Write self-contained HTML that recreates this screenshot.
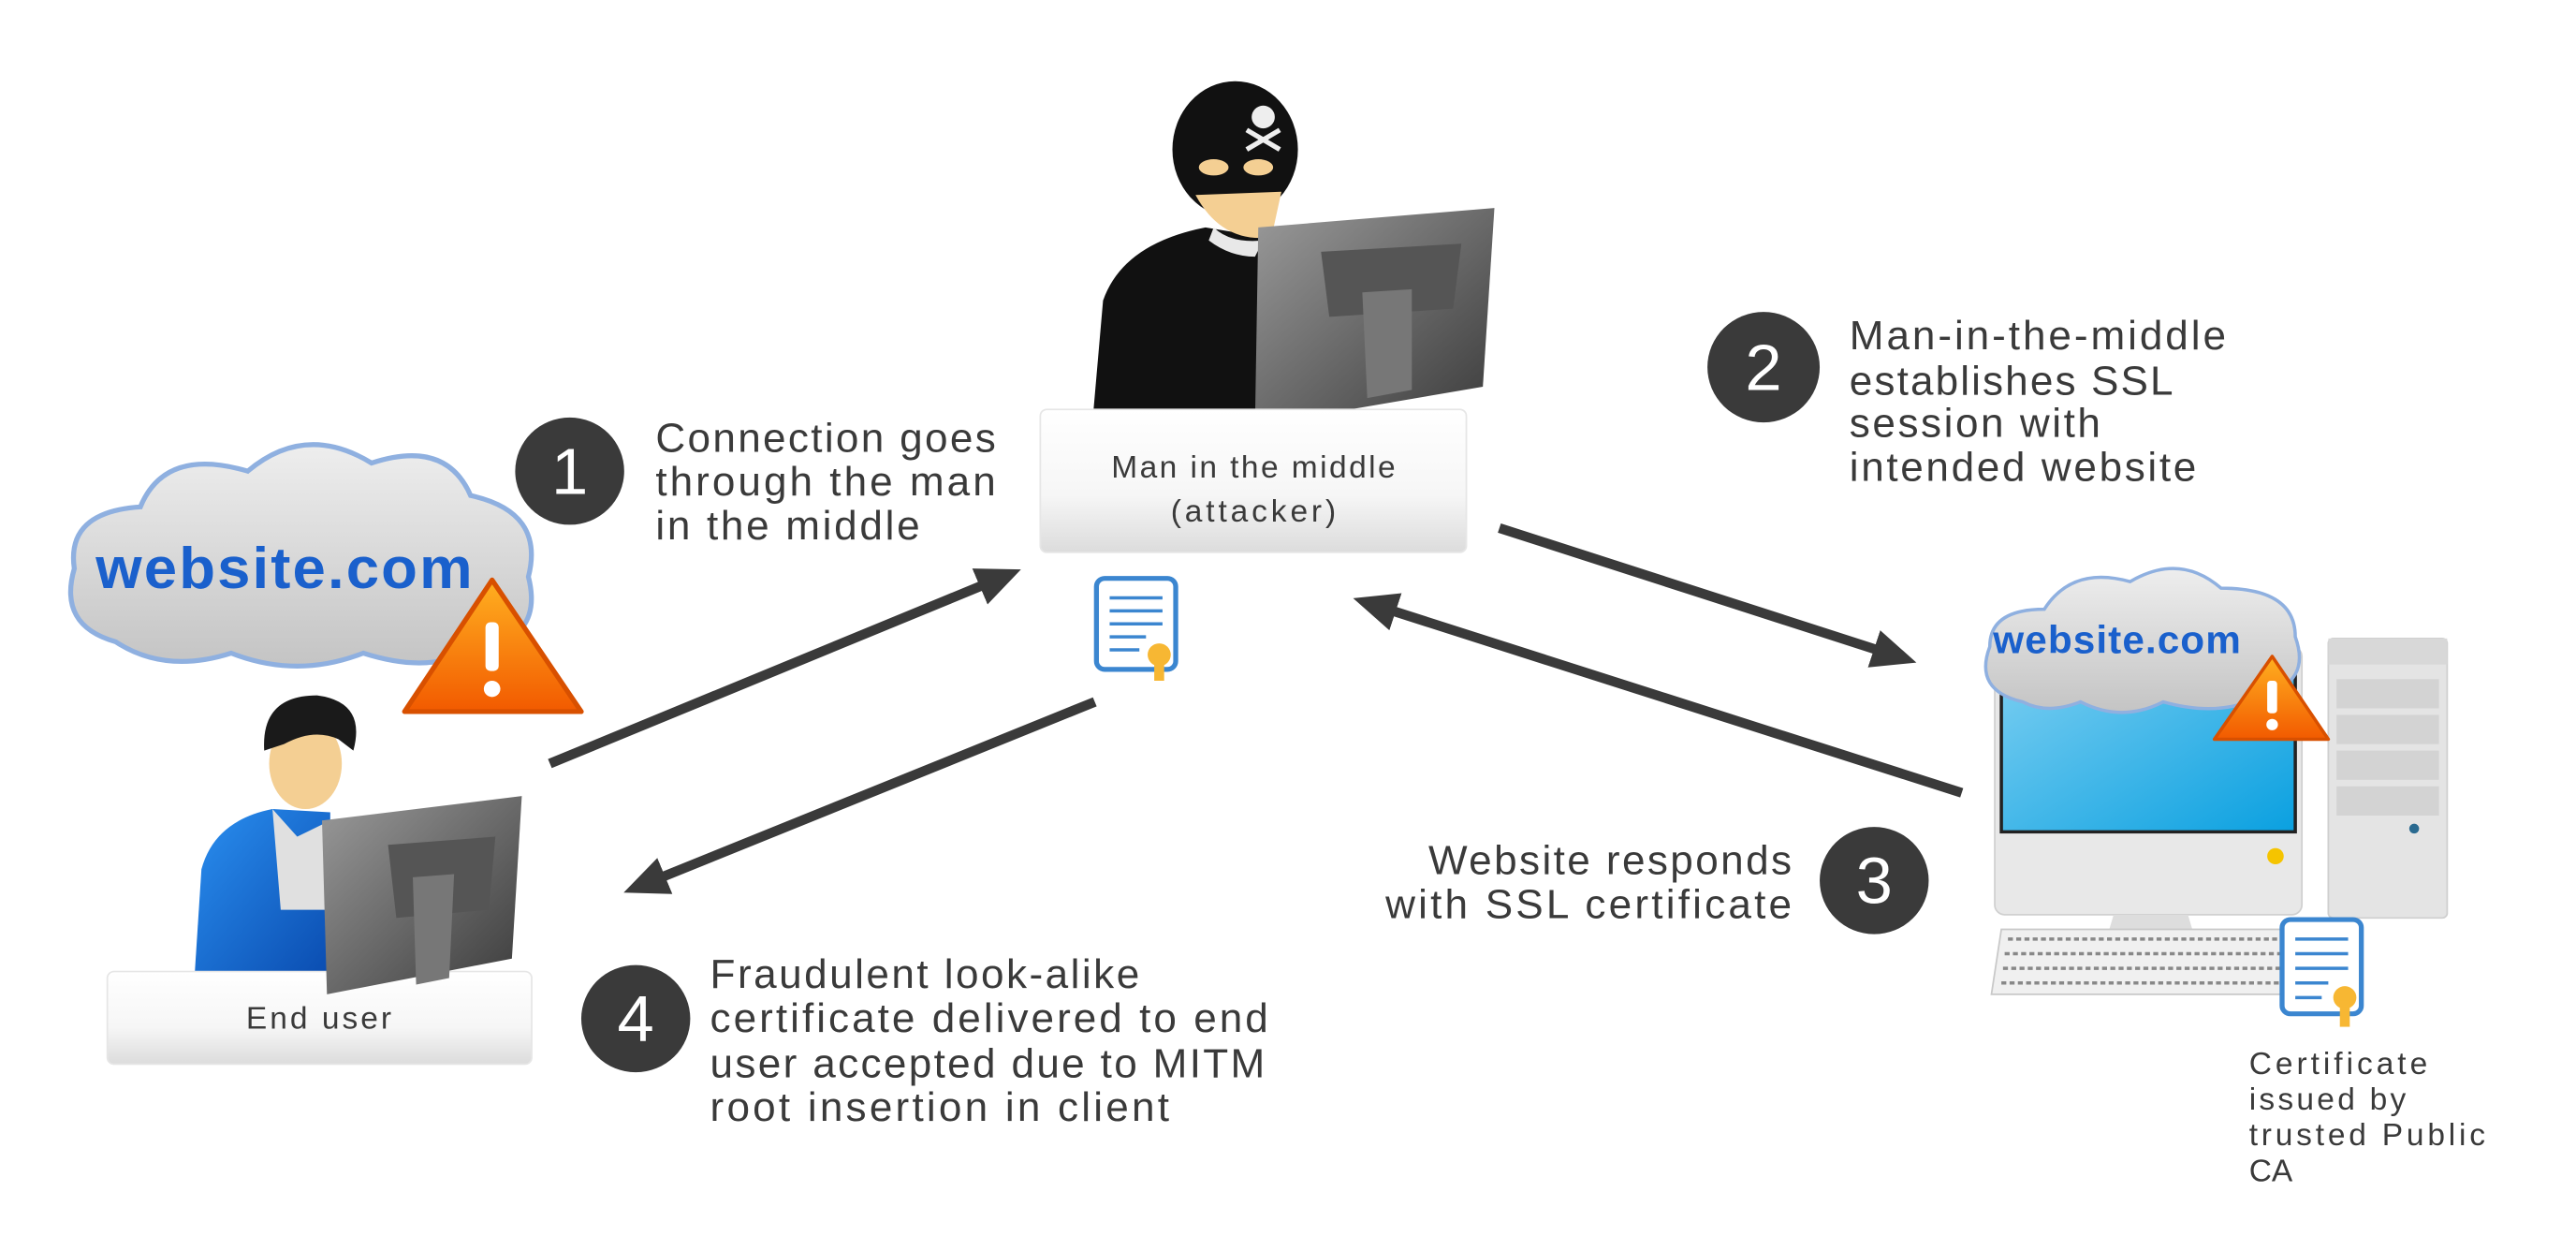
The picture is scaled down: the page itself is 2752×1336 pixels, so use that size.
<!DOCTYPE html>
<html><head><meta charset="utf-8"><style>
html,body{margin:0;padding:0;background:#fff;}
svg{display:block;}
text{font-family:"Liberation Sans",sans-serif;fill:#3a3a3a;}
</style></head><body>
<svg width="2752" height="1336" viewBox="0 0 1560 770" preserveAspectRatio="none" xmlns="http://www.w3.org/2000/svg">
<defs>
<linearGradient id="box" x1="0" y1="0" x2="0" y2="1"><stop offset="0" stop-color="#fff"/><stop offset="0.6" stop-color="#f6f6f6"/><stop offset="1" stop-color="#dcdcdc"/></linearGradient>
<linearGradient id="cloud" x1="0" y1="0" x2="0" y2="1"><stop offset="0" stop-color="#eeeeee"/><stop offset="1" stop-color="#c4c4c4"/></linearGradient>
<linearGradient id="warn" x1="0" y1="0" x2="0" y2="1"><stop offset="0" stop-color="#ffb020"/><stop offset="1" stop-color="#f25a00"/></linearGradient>
<linearGradient id="mon" x1="0" y1="0" x2="1" y2="1"><stop offset="0" stop-color="#9a9a9a"/><stop offset="1" stop-color="#3a3a3a"/></linearGradient>
<linearGradient id="scr" x1="0" y1="0" x2="1" y2="1"><stop offset="0" stop-color="#7fd0f2"/><stop offset="1" stop-color="#0aa0e0"/></linearGradient>
<linearGradient id="blue" x1="0" y1="0" x2="1" y2="1"><stop offset="0" stop-color="#2a8ff0"/><stop offset="1" stop-color="#0a4cb0"/></linearGradient>
<marker id="ah" markerWidth="4.5" markerHeight="4" refX="3" refY="2" orient="auto" markerUnits="strokeWidth"><path d="M0,0 L4.5,2 L0,4 z" fill="#3a3a3a"/></marker>
</defs>

<g stroke="#3a3a3a" stroke-width="6" marker-end="url(#ah)">
<line x1="333" y1="470" x2="610" y2="354"/>
<line x1="663" y1="432" x2="386" y2="546"/>
<line x1="908" y1="325" x2="1152" y2="405"/>
<line x1="1188" y1="488" x2="828" y2="371"/>
</g>

<!-- attacker -->
<path d="M662,255 L668,185 Q680,150 730,140 L760,145 L790,160 L790,255 Z" fill="#111"/>
<path d="M735,140 Q745,150 765,148 L760,158 Q745,158 732,148 Z" fill="#e8e8e8"/>
<ellipse cx="748" cy="92" rx="38" ry="42" fill="#111"/>
<path d="M724,120 Q740,150 770,146 L776,118 Z" fill="#f4cf93"/>
<ellipse cx="735" cy="103" rx="9" ry="5" fill="#f4cf93"/>
<ellipse cx="762" cy="103" rx="9" ry="5" fill="#f4cf93"/>
<circle cx="765" cy="72" r="7" fill="#eee"/>
<path d="M755,80 L775,92 M775,80 L755,92" stroke="#eee" stroke-width="3"/>
<path d="M762,140 L905,128 L898,238 L760,262 Z" fill="url(#mon)"/>
<path d="M800,155 L885,150 L880,190 L805,195 Z" fill="#555"/>
<path d="M825,180 L855,178 L855,240 L828,245 Z" fill="#777"/>

<rect x="630" y="252" width="258" height="88" rx="4" fill="url(#box)" stroke="#e6e6e6"/>
<text x="759" y="294" font-size="19" text-anchor="middle" textLength="172">Man in the middle</text>
<text x="759" y="321" font-size="19" text-anchor="middle" textLength="100">(attacker)</text>

<rect x="664" y="356" width="48" height="56" rx="5" fill="#fff" stroke="#3b86d0" stroke-width="3"/>
<g stroke="#3b86d0" stroke-width="2"><line x1="672" y1="368" x2="704" y2="368"/><line x1="672" y1="376" x2="704" y2="376"/><line x1="672" y1="384" x2="704" y2="384"/><line x1="672" y1="392" x2="694" y2="392"/><line x1="672" y1="400" x2="690" y2="400"/></g>
<circle cx="702" cy="403" r="7" fill="#f7b733"/><rect x="699" y="405" width="6" height="14" fill="#f7b733"/>

<g fill="#3a3a3a">
<circle cx="345" cy="290" r="33"/><circle cx="1068" cy="226" r="34"/><circle cx="1135" cy="542" r="33"/><circle cx="385" cy="627" r="33"/>
</g>
<g font-size="40" text-anchor="middle">
<text x="345" y="304" style="fill:#fff">1</text><text x="1068" y="240" style="fill:#fff">2</text><text x="1135" y="556" style="fill:#fff">3</text><text x="385" y="641" style="fill:#fff">4</text>
</g>
<g font-size="25">
<text x="397" y="278" textLength="206">Connection goes</text>
<text x="397" y="305" textLength="206">through the man</text>
<text x="397" y="332" textLength="160">in the middle</text>
<text x="1120" y="215" textLength="228">Man-in-the-middle</text>
<text x="1120" y="243" textLength="196">establishes SSL</text>
<text x="1120" y="269" textLength="152">session with</text>
<text x="1120" y="296" textLength="210">intended website</text>
<text x="1085" y="538" text-anchor="end" textLength="220">Website responds</text>
<text x="1085" y="565" text-anchor="end" textLength="246">with SSL certificate</text>
<text x="430" y="608" textLength="260">Fraudulent look-alike</text>
<text x="430" y="635" textLength="338">certificate delivered to end</text>
<text x="430" y="663" textLength="336">user accepted due to MITM</text>
<text x="430" y="690" textLength="278">root insertion in client</text>
</g>
<g font-size="19">
<text x="1362" y="661" textLength="108">Certificate</text>
<text x="1362" y="683" textLength="95">issued by</text>
<text x="1362" y="705" textLength="143">trusted Public</text>
<text x="1362" y="727">CA</text>
</g>

<path d="M70,395 Q35,385 45,350 Q40,315 85,312 Q100,275 150,290 Q185,260 225,285 Q270,270 285,305 Q330,315 320,355 Q330,395 285,400 Q260,415 220,402 Q180,418 140,402 Q100,415 70,395 Z" fill="url(#cloud)" stroke="#8fb0e0" stroke-width="3"/>
<text x="172" y="362" font-size="36" font-weight="bold" text-anchor="middle" textLength="228" style="fill:#1a60cc">website.com</text>
<path d="M298,357 L352,438 L245,438 Z" fill="url(#warn)" stroke="#d85000" stroke-width="3" stroke-linejoin="round"/>
<rect x="294" y="383" width="8" height="30" rx="3" fill="#fff"/><circle cx="298" cy="424" r="5" fill="#fff"/>

<path d="M118,598 L122,535 Q130,505 165,498 L200,500 L200,600 Z" fill="url(#blue)"/>
<path d="M165,498 L180,515 L200,505 L200,560 L170,560 Z" fill="#e0e0e0"/>
<ellipse cx="185" cy="470" rx="22" ry="28" fill="#f4cf93"/>
<path d="M160,462 Q158,428 192,428 Q222,432 214,462 L205,455 Q190,448 172,458 Z" fill="#1a1a1a"/>
<rect x="65" y="598" width="257" height="57" rx="4" fill="url(#box)" stroke="#e6e6e6"/>
<text x="193" y="633" font-size="19" text-anchor="middle" textLength="88">End user</text>
<path d="M195,505 L316,490 L310,590 L198,612 Z" fill="url(#mon)"/>
<path d="M235,520 L300,515 L296,560 L240,565 Z" fill="#555"/>
<path d="M250,540 L275,538 L272,602 L252,606 Z" fill="#777"/>

<rect x="1410" y="393" width="72" height="172" rx="3" fill="#e4e4e4" stroke="#cfcfcf"/>
<rect x="1410" y="393" width="72" height="16" fill="#d8d8d8"/>
<g fill="#d3d3d3"><rect x="1415" y="418" width="62" height="18"/><rect x="1415" y="440" width="62" height="18"/><rect x="1415" y="462" width="62" height="18"/><rect x="1415" y="484" width="62" height="18"/></g>
<circle cx="1462" cy="510" r="3" fill="#2a6a90"/>
<rect x="1208" y="398" width="186" height="165" rx="6" fill="#e8e8e8" stroke="#d0d0d0"/>
<rect x="1212" y="400" width="178" height="112" fill="url(#scr)" stroke="#222" stroke-width="2"/>
<circle cx="1378" cy="527" r="5" fill="#f5c400"/>
<path d="M1280,563 L1325,563 L1330,580 L1275,580 Z" fill="#ddd"/>
<rect x="1265" y="580" width="75" height="4" fill="#bbb"/>
<path d="M1212,572 L1385,572 L1390,612 L1206,612 Z" fill="#f0f0f0" stroke="#c8c8c8"/>
<g stroke="#888" stroke-width="2" stroke-dasharray="3 2"><line x1="1216" y1="578" x2="1380" y2="578"/><line x1="1214" y1="587" x2="1382" y2="587"/><line x1="1213" y1="596" x2="1384" y2="596"/><line x1="1212" y1="605" x2="1386" y2="605"/></g>
<path d="M1225,432 Q1195,425 1205,398 Q1205,375 1238,375 Q1255,348 1290,358 Q1320,340 1345,362 Q1390,362 1390,392 Q1400,420 1370,428 Q1345,442 1310,432 Q1285,445 1260,432 Q1240,440 1225,432 Z" fill="url(#cloud)" stroke="#8fb0e0" stroke-width="2"/>
<text x="1282" y="402" font-size="24" font-weight="bold" text-anchor="middle" textLength="150" style="fill:#1a60cc">website.com</text>
<path d="M1376,404 L1410,455 L1341,455 Z" fill="url(#warn)" stroke="#d85000" stroke-width="2" stroke-linejoin="round"/>
<rect x="1373" y="419" width="6" height="20" rx="2" fill="#fff"/><circle cx="1376" cy="446" r="3.5" fill="#fff"/>
<rect x="1382" y="566" width="48" height="58" rx="5" fill="#fff" stroke="#3b86d0" stroke-width="3"/>
<g stroke="#3b86d0" stroke-width="2"><line x1="1390" y1="578" x2="1422" y2="578"/><line x1="1390" y1="587" x2="1422" y2="587"/><line x1="1390" y1="596" x2="1422" y2="596"/><line x1="1390" y1="605" x2="1410" y2="605"/><line x1="1390" y1="614" x2="1406" y2="614"/></g>
<circle cx="1420" cy="614" r="7" fill="#f7b733"/><rect x="1417" y="616" width="6" height="16" fill="#f7b733"/>
</svg>
</body></html>
